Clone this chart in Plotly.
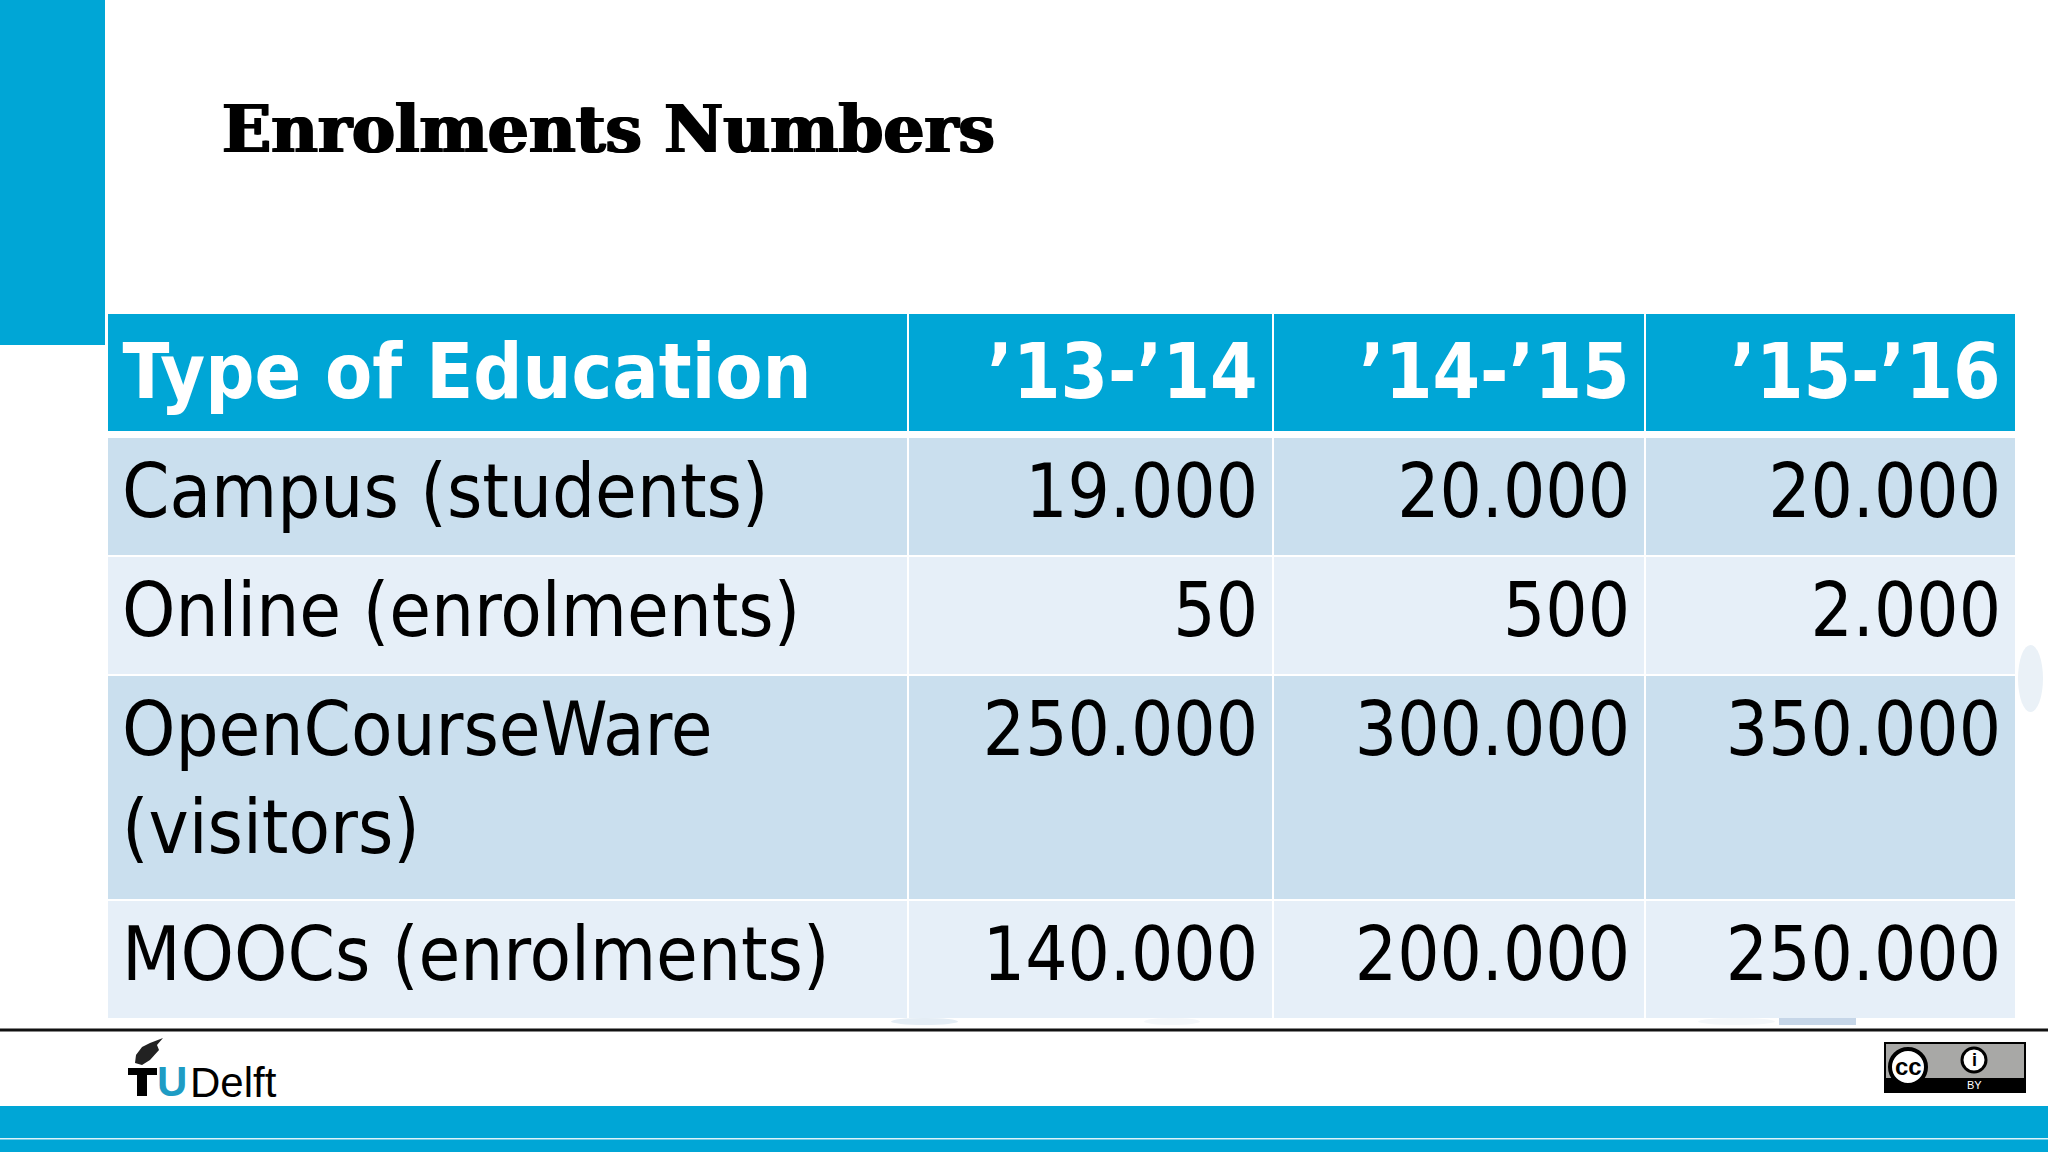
import plotly.graph_objects as go

# Table content
TITLE = "Enrolments Numbers"
HEADERS = ["Type of Education", "’13-’14", "’14-’15", "’15-’16"]
TYPES = ["Campus (students)", "Online (enrolments)", "OpenCourseWare<br>(visitors)", "MOOCs (enrolments)"]
Y1314 = ["19.000", "50", "250.000", "140.000"]
Y1415 = ["20.000", "500", "300.000", "200.000"]
Y1516 = ["20.000", "2.000", "350.000", "250.000"]

W, H = 2048, 1152
BLUE = "#00A6D6"
ROW_DARK = "#CADFEE"
ROW_LIGHT = "#E6EFF8"
FONT = "DejaVu Sans Condensed"

# hair spaces act as cell padding, the table has no setting for it. Being set
# larger than the text they also push the baseline down a little
PAD_HEAD = '<span style="font-size:83px">&#8202;</span>'
PAD_CELL = '<span style="font-size:78px">&#8202;</span>'
# stretches the two line row, its height can't be set on its own
TALL = '<span style="font-size:165px">&nbsp;</span>'


def px(x):
    return x / W


def py(y):
    return 1 - y / H


def rect(x0, y0, x1, y1, color, kind="rect"):
    return dict(type=kind, xref="paper", yref="paper", x0=px(x0), x1=px(x1), y0=py(y0), y1=py(y1),
                fillcolor=color, line=dict(width=0), layer="above")


def label(x, y, text, size, color="#000000", family=FONT, anchor="left", shadow=None):
    font = dict(size=size, color=color, family=family)
    if shadow:
        font["shadow"] = shadow
    return dict(xref="paper", yref="paper", x=px(x), y=py(y), text=text, showarrow=False,
                xanchor=anchor, yanchor="middle", font=font)


def path(points, color):
    d = "M " + " L ".join(f"{px(a):.5f} {py(b):.5f}" for a, b in points) + " Z"
    return dict(type="path", xref="paper", yref="paper", path=d, fillcolor=color, line=dict(width=0))


# a trailing <br> makes plotly place the text lower in the cell, same as the reference
first_col = [PAD_CELL + t.replace("<br>", "<br>" + PAD_CELL) + (TALL if "<br>" in t else "<br>") for t in TYPES]


def num_col(values):
    return [v + PAD_CELL + "<br>" for v in values]


header_vals = [f"{PAD_HEAD}<b>{HEADERS[0]}</b><br>"] + [f"<b>{h}</b>{PAD_HEAD}<br>" for h in HEADERS[1:]]

fig = go.Figure(go.Table(
    domain=dict(x=[px(107), px(2016)], y=[py(1040), py(313)]),
    columnwidth=[801, 365, 372, 371],
    header=dict(
        values=header_vals,
        align=["left", "right", "right", "right"],
        height=124,
        fill_color=BLUE,
        line=dict(color="white", width=2),
        font=dict(family=FONT, size=[76.5, 76, 76, 76], color="white"),
    ),
    cells=dict(
        values=[first_col, num_col(Y1314), num_col(Y1415), num_col(Y1516)],
        align=["left", "right", "right", "right"],
        height=119,
        fill_color=[[ROW_DARK, ROW_LIGHT, ROW_DARK, ROW_LIGHT]] * 4,
        line=dict(color="white", width=2),
        font=dict(family=FONT, size=[75.5, 74, 74, 74], color="#000000"),
    ),
))

shapes = [
    rect(0, 0, 105, 345, BLUE),
    rect(107, 431, 2016, 437, "white"),
    rect(0, 1028.5, W, 1031.5, "#111111"),
    rect(0, 1106, W, 1152, BLUE),
    rect(0, 1138, W, 1139.5, "#DDF3FA"),
    # smudges left by the video around the table
    rect(891, 1018, 958, 1025, "#E4EDF5", "circle"),
    rect(1144, 1018, 1200, 1025, "#F4F7FA", "circle"),
    rect(1698, 1018, 1775, 1025, "#F4F7FA", "circle"),
    rect(1779, 1018, 1856, 1025, "#C6D6E8"),
    rect(2018, 645, 2043, 712, "#EAF1F7", "circle"),
    # flame of the logo
    path([(163, 1038), (157, 1045), (159, 1050), (150, 1060), (142, 1065), (135, 1063), (136, 1055),
          (142, 1047), (150, 1043)], "#222222"),
    # T of the logo
    rect(128, 1068, 157, 1075, "#000000"),
    rect(137, 1068, 147, 1096, "#000000"),
    # cc badge
    dict(type="rect", xref="paper", yref="paper", x0=px(1885), x1=px(2025), y0=py(1043), y1=py(1092),
         fillcolor="#A8A8A6", line=dict(color="#000000", width=2)),
    rect(1885, 1078, 2025, 1092, "#000000"),
    dict(type="circle", xref="paper", yref="paper", x0=px(1890), x1=px(1926), y0=py(1049), y1=py(1085),
         fillcolor="white", line=dict(color="#000000", width=4)),
    dict(type="circle", xref="paper", yref="paper", x0=px(1962), x1=px(1986), y0=py(1048), y1=py(1072),
         fillcolor="white", line=dict(color="#000000", width=3)),
]

annotations = [
    label(220, 129, f"<b>{TITLE}</b>", 64.5, family="DejaVu Serif",
          shadow="1.2px 0 0 #000, -1.2px 0 0 #000"),
    label(155, 1081, "<b>U</b>", 42, color="#1E9CC4", family="Liberation Sans"),
    label(188, 1082, "Delft", 42, family="Liberation Sans"),
    label(1908, 1066, "<b>cc</b>", 24, family="Liberation Sans", anchor="center"),
    label(1974, 1060, "<b>i</b>", 18, family="Liberation Sans", anchor="center"),
    label(1974, 1085, "BY", 11, color="#FFFFFF", family="Liberation Sans", anchor="center"),
]

fig.update_layout(
    width=W,
    height=H,
    margin=dict(l=0, r=0, t=0, b=0),
    paper_bgcolor="white",
    shapes=shapes,
    annotations=annotations,
)

fig.write_html("out.html", config=dict(displayModeBar=False),
               post_script="document.body.style.margin='0';")
